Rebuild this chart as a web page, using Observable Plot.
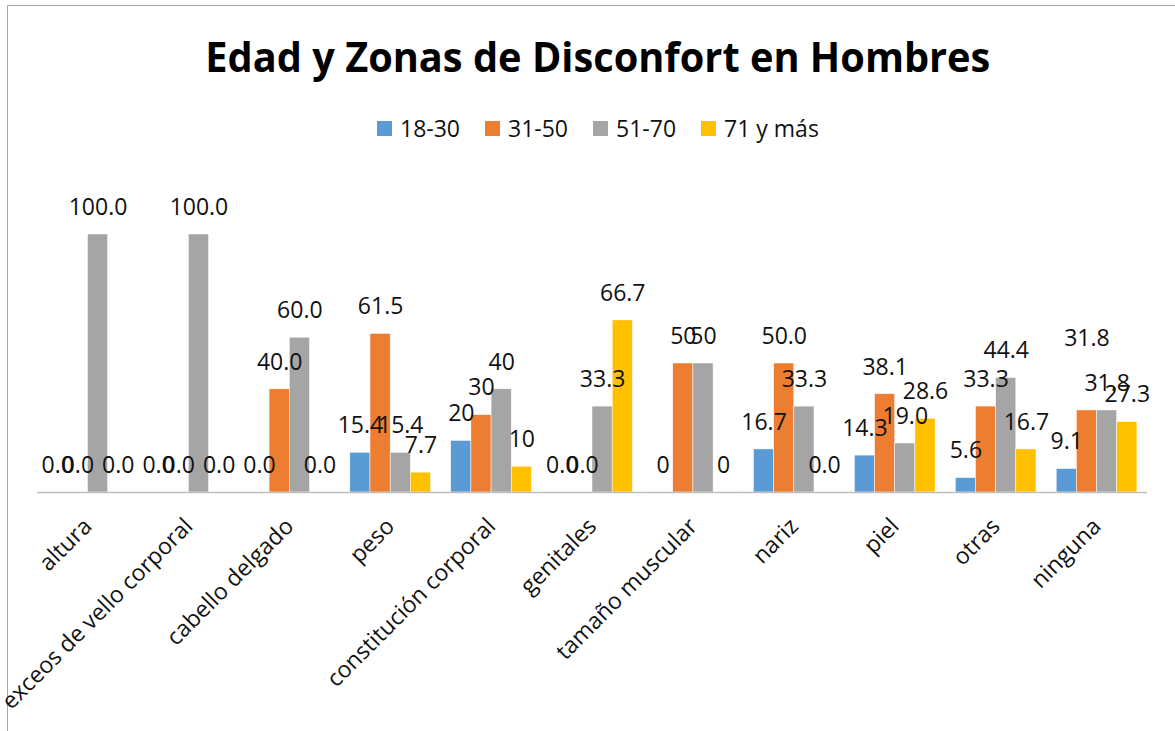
<!DOCTYPE html>
<html>
<head>
<meta charset="utf-8">
<script src="https://cdn.jsdelivr.net/npm/d3@7"></script>
<script src="https://cdn.jsdelivr.net/npm/@observablehq/plot@0.6"></script>
<style>
  html, body { margin:0; padding:0; background:#fff; overflow:hidden; width:1175px; height:731px; }
  body { position:relative; font-family:"Open Sans", sans-serif; color:#111; }
  #frame { position:absolute; left:7px; top:5px; width:1300px; height:900px; border:1.5px solid #a6a6a6; }
  #title { position:absolute; top:35px; left:0; width:1195px; text-align:center; line-height:1; }
  #title span { display:inline-block; font-weight:700; font-size:42px; color:#000; transform-origin:center; white-space:nowrap; }
  #legend { position:absolute; left:377px; top:114px; display:flex; align-items:center; gap:25px; font-size:23px; line-height:28px; }
  #legend .item { display:flex; align-items:center; }
  #legend .sw { width:15px; height:15px; margin-right:8px; }
  #chart { position:absolute; left:0; top:150px; }
</style>
</head>
<body>
<div id="frame"></div>
<div id="title"><span id="titletext">Edad y Zonas de Disconfort en Hombres</span></div>
<div id="legend"></div>
<div id="chart"></div>
<script>
const categories = ["altura","exceos de vello corporal","cabello delgado","peso","constitución corporal","genitales","tamaño muscular","nariz","piel","otras","ninguna"];
const series = ["18-30","31-50","51-70","71 y más"];
const colors = ["#5B9BD5","#ED7D31","#A5A5A5","#FFC000"];

const values18_30 = [0,0,0,15.4,20,0,0,16.7,14.3,5.6,9.1];
const values31_50 = [0,0,40,61.5,30,0,50,50,38.1,33.3,31.8];
const values51_70 = [100,100,60,15.4,40,33.3,50,33.3,19.0,44.4,31.8];
const values71 = [0,0,0,7.7,10,66.7,0,0,28.6,16.7,27.3];

const labels18_30 = ["0.0","0.0","0.0","15.4","20","0.0","0","16.7","14.3","5.6","9.1"];
const labels31_50 = ["0.0","0.0","40.0","61.5","30","0.0","50","50.0","38.1","33.3","31.8"];
const labels51_70 = ["100.0","100.0","60.0","15.4","40","33.3","50","33.3","19.0","44.4","31.8"];
const labels71 = ["0.0","0.0","0.0","7.7","10","66.7","0","0.0","28.6","16.7","27.3"];

const seriesValues = [values18_30, values31_50, values51_70, values71];
const seriesLabels = [labels18_30, labels31_50, labels51_70, labels71];

const data = [];
categories.forEach((c, i) => {
  series.forEach((s, j) => {
    data.push({cat: c, series: s, value: seriesValues[j][i], label: seriesLabels[j][i]});
  });
});

// the one label that sits displaced in the reference (ninguna, 31-50)
const isRaised = d => d.cat === "ninguna" && d.series === "31-50";

// legend
const legend = document.getElementById("legend");
series.forEach((s, j) => {
  const it = document.createElement("div");
  it.className = "item";
  const sw = document.createElement("div");
  sw.className = "sw";
  sw.style.background = colors[j];
  const tx = document.createElement("span");
  tx.textContent = s;
  it.appendChild(sw); it.appendChild(tx);
  legend.appendChild(it);
});

const chart = Plot.plot({
  width: 1175,
  height: 581,
  marginLeft: 37,
  marginRight: 28,
  marginTop: 84,
  marginBottom: 239,
  style: {fontFamily: "Open Sans, sans-serif", fontSize: "23px", color: "#111", background: "transparent", overflow: "visible"},
  fx: {domain: categories, padding: 0, round: false, label: null, axis: null},
  x: {domain: series, paddingInner: 0, paddingOuter: 0.5, round: false, axis: null},
  y: {domain: [0, 100], axis: null},
  color: {domain: series, range: colors},
  marks: [
    Plot.barY(data, {fx: "cat", x: "series", y: "value", fill: "series", stroke: "white", strokeWidth: 0.5}),
    Plot.ruleY([0], {stroke: "#bfbfbf", strokeWidth: 1.5}),
    Plot.text(data.filter(d => !isRaised(d)), {fx: "cat", x: "series", y: "value", text: "label", dy: -27, fontSize: 23, fill: "#111"}),
    Plot.text(data.filter(isRaised), {fx: "cat", x: "series", y: "value", text: "label", dy: -72, fontSize: 23, fill: "#111"}),
    Plot.axisFx({anchor: "bottom", tickRotate: -45, tickSize: 0, tickPadding: 30, fontSize: 23, label: null, fill: "#111"})
  ]
});
document.getElementById("chart").appendChild(chart);

// fit title to reference width
const tt = document.getElementById("titletext");
const w = tt.getBoundingClientRect().width;
tt.style.transform = `scaleX(${785 / w})`;
</script>
</body>
</html>
